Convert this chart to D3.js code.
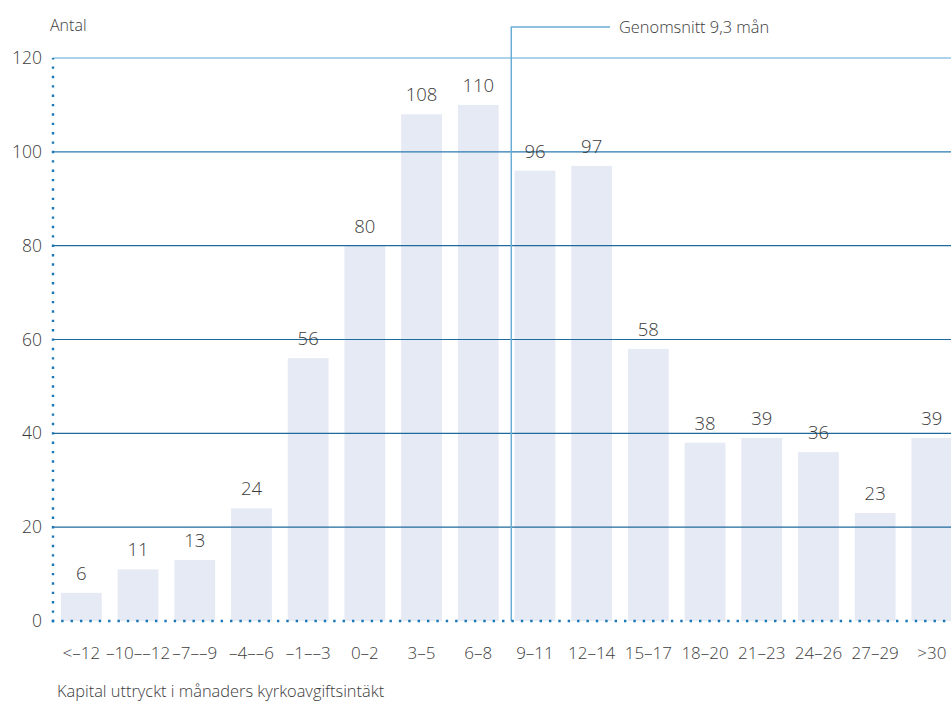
<!DOCTYPE html>
<html><head><meta charset="utf-8">
<script src="https://cdn.jsdelivr.net/npm/d3@7"></script>
<style>
html,body{margin:0;padding:0;background:#fff;}
svg text{font-family:"Open Sans",sans-serif;font-weight:300;fill:#3c3c3c;}
</style></head>
<body>
<svg id="c" width="951" height="702"></svg>
<script>
const categories = ["<–12","–10––12","–7––9","–4––6","–1––3","0–2","3–5","6–8","9–11","12–14","15–17","18–20","21–23","24–26","27–29",">30"];
const values = [6,11,13,24,56,80,108,110,96,97,58,38,39,36,23,39];
const yTicks = [0,20,40,60,80,100,120];
const meanValue = 9.3;
const meanBin = "9–11", meanBinStart = 9, binWidth = 3;
const meanLabel = "Genomsnitt 9,3 mån";
const yTitle = "Antal";
const xTitle = "Kapital uttryckt i månaders kyrkoavgiftsintäkt";

const svg = d3.select("#c");
const W = 951;
const x0 = 53, yBottom = 621, yTop = 58;
const x = d3.scaleBand().domain(categories).range([x0, x0 + 16*56.7]).paddingInner(0.28).paddingOuter(0.14);
const y = d3.scaleLinear().domain([0,120]).range([yBottom, yTop]);

// bars
svg.append("g").selectAll("rect").data(values).join("rect")
  .attr("x",(d,i)=>x(categories[i]))
  .attr("y",d=>y(d))
  .attr("width",x.bandwidth())
  .attr("height",d=>y(0)-y(d))
  .attr("fill","#e6eaf5");

// gridlines
svg.append("g").selectAll("line").data(yTicks.filter(t=>t>0)).join("line")
  .attr("x1",x0).attr("x2",W)
  .attr("y1",d=>y(d)).attr("y2",d=>y(d))
  .attr("stroke",d=>d===120?"#5aa8d8":(d===100?"#2a7ab0":"#1e6a9c"))
  .attr("stroke-width",1.2);

// y tick labels
svg.append("g").selectAll("text").data(yTicks).join("text")
  .attr("x",42).attr("y",d=>y(d)).attr("dy","0.35em")
  .attr("text-anchor","end").attr("font-size",17.5).text(d=>d);

// mean annotation
const step = x.step();
const binStartPx = x(meanBin) - x.paddingInner()*step/2;
const mx = binStartPx + (meanValue-meanBinStart)/binWidth*step - 1;
svg.append("path")
  .attr("d",`M${mx},${yBottom}V27H610`)
  .attr("fill","none").attr("stroke","#6aaed6").attr("stroke-width",1.5);
svg.append("text").attr("x",619).attr("y",27).attr("dy","0.35em")
  .attr("font-size",16.4).text(meanLabel);

// dotted axes
svg.append("line").attr("x1",x0).attr("x2",x0).attr("y1",yBottom+1.2).attr("y2",yTop)
  .attr("stroke","#1a76b4").attr("stroke-width",2.4).attr("stroke-dasharray","2.4,6.98");
svg.append("line").attr("x1",x0-1.2).attr("x2",W).attr("y1",yBottom).attr("y2",yBottom)
  .attr("stroke","#1a76b4").attr("stroke-width",2.4).attr("stroke-dasharray","2.4,6.98");

// value labels
svg.append("g").selectAll("text").data(values).join("text")
  .attr("x",(d,i)=>x(categories[i])+x.bandwidth()/2)
  .attr("y",d=>y(d)-13)
  .attr("text-anchor","middle").attr("font-size",18.5).text(d=>d);

// x tick labels
svg.append("g").selectAll("text").data(categories).join("text")
  .attr("x",d=>x(d)+x.bandwidth()/2).attr("y",653).attr("dy","0.35em")
  .attr("text-anchor","middle").attr("font-size",17).text(d=>d);

svg.append("text").attr("x",50).attr("y",25).attr("dy","0.35em").attr("font-size",16).text(yTitle);
svg.append("text").attr("x",57).attr("y",691).attr("dy","0.35em").attr("font-size",16.4).text(xTitle);
</script>
</body></html>
